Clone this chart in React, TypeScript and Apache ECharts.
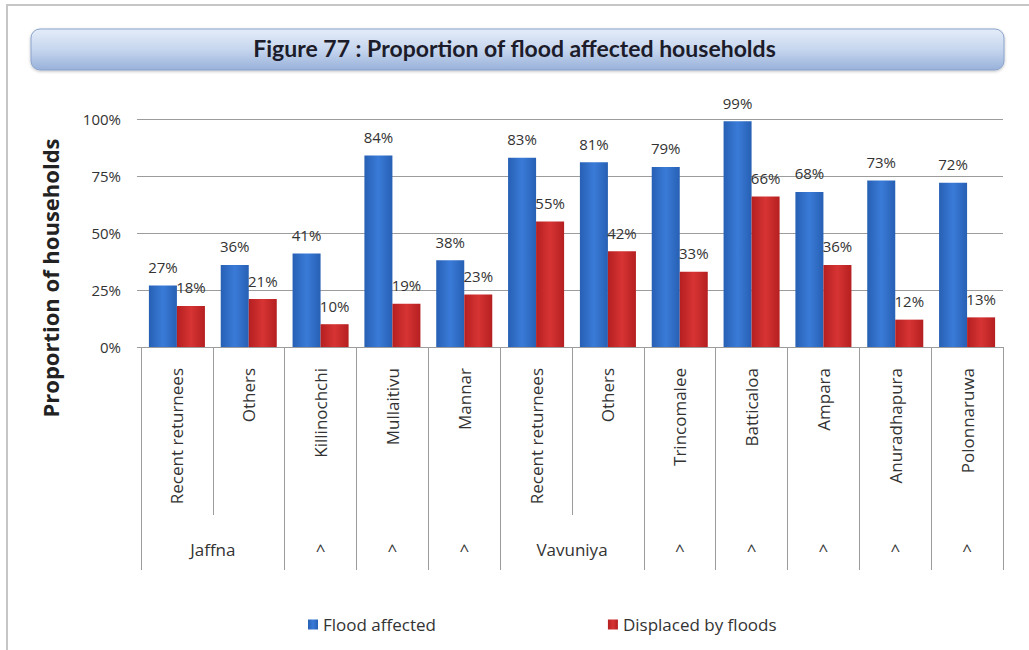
import React, { useEffect, useRef } from "react";
import * as echarts from "echarts";

const level1 = [
  "Recent returnees",
  "Others",
  "Killinochchi",
  "Mullaitivu",
  "Mannar",
  "Recent returnees",
  "Others",
  "Trincomalee",
  "Batticaloa",
  "Ampara",
  "Anuradhapura",
  "Polonnaruwa",
];
const level2 = ["Jaffna", "", "^", "^", "^", "Vavuniya", "", "^", "^", "^", "^", "^"];
const floodAffected = [27, 36, 41, 84, 38, 83, 81, 79, 99, 68, 73, 72];
const displaced = [18, 21, 10, 19, 23, 55, 42, 33, 66, 36, 12, 13];
const yTicks = [0, 25, 50, 75, 100];
const seriesNames = ["Flood affected", "Displaced by floods"];
const titleText = "Figure 77 : Proportion of flood affected households";
const yTitle = "Proportion of households";

const FONT = "'Open Sans', 'Liberation Sans', sans-serif";
const GRID_LEFT = 141;
const GRID_RIGHT = 26;
const WIDTH = 1029;
const HEIGHT = 650;
const band = (WIDTH - GRID_LEFT - GRID_RIGHT) / level1.length;
const GRAY = "#9c9c9c";

export default function App() {
  const ref = useRef<HTMLDivElement>(null);

  useEffect(() => {
    if (!ref.current) return;
    const chart = echarts.init(ref.current, undefined, { renderer: "svg" });

    const blue = new echarts.graphic.LinearGradient(0, 0, 1, 0, [
      { offset: 0, color: "#2760b4" },
      { offset: 0.5, color: "#3a7bd8" },
      { offset: 1, color: "#2760b4" },
    ]);
    const red = new echarts.graphic.LinearGradient(0, 0, 1, 0, [
      { offset: 0, color: "#b51f20" },
      { offset: 0.5, color: "#d73434" },
      { offset: 1, color: "#b51f20" },
    ]);

    const labelStyle = {
      show: true,
      position: "top",
      distance: 11,
      formatter: "{c}%",
      fontFamily: FONT,
      fontSize: 15,
      color: "#333",
    };

    chart.setOption({
      animation: false,
      backgroundColor: "#ffffff",
      title: {
        text: titleText,
        left: "center",
        top: 36,
        padding: 0,
        textStyle: {
          fontFamily: "Lato, 'Open Sans', sans-serif",
          fontWeight: "bold",
          fontSize: 23,
          color: "#1c1c2a",
        },
      },
      graphic: [
        {
          type: "polyline",
          shape: { points: [[7, HEIGHT], [7, 5], [WIDTH, 5]] },
          style: { stroke: "#c6c6c6", lineWidth: 2, fill: null },
          z: -1,
        },
        {
          type: "rect",
          shape: { x: 31, y: 29, width: 973, height: 41, r: 9 },
          style: {
            fill: new echarts.graphic.LinearGradient(0, 0, 0, 1, [
              { offset: 0, color: "#e4ecf8" },
              { offset: 0.5, color: "#c6d6ee" },
              { offset: 1, color: "#98b1da" },
            ]),
            stroke: "#8ba3cc",
            lineWidth: 1,
            shadowBlur: 3,
            shadowColor: "rgba(0,0,0,0.25)",
            shadowOffsetY: 1,
          },
          z: -1,
        },
        {
          type: "text",
          x: 50,
          y: 278,
          rotation: Math.PI / 2,
          style: {
            text: yTitle,
            fontFamily: FONT,
            fontWeight: "bold",
            fontSize: 22,
            fill: "#222",
            align: "center",
            verticalAlign: "middle",
            textAlign: "center",
            textVerticalAlign: "middle",
          },
        },
      ],
      legend: {
        left: 303,
        top: 611,
        icon: "rect",
        itemWidth: 10,
        itemHeight: 10,
        itemGap: 172,
        data: seriesNames,
        textStyle: { fontFamily: FONT, fontSize: 17, color: "#333" },
      },
      grid: {
        left: GRID_LEFT,
        right: GRID_RIGHT,
        top: 119,
        bottom: 303,
        containLabel: false,
      },
      xAxis: [
        {
          type: "category",
          data: level1,
          position: "bottom",
          axisLine: { show: true, lineStyle: { color: GRAY, width: 1 } },
          axisTick: { show: true, length: 168, interval: 0, lineStyle: { color: GRAY } },
          axisLabel: {
            interval: 0,
            rotate: 90,
            margin: 21,
            fontFamily: FONT,
            fontSize: 17,
            color: "#333",
          },
        },
        {
          type: "category",
          data: level2,
          position: "bottom",
          offset: 168,
          axisLine: { show: false },
          axisTick: {
            show: true,
            length: 55,
            interval: (i: number) => level2[i] !== "",
            lineStyle: { color: GRAY },
          },
          axisLabel: {
            interval: 0,
            margin: 26,
            fontFamily: FONT,
            fontSize: 17,
            color: "#333",
            formatter: (v: string, i: number) => (level2[i + 1] === "" && v ? `{g|${v}}` : v),
            rich: {
              g: {
                padding: [0, 0, 0, band],
                fontFamily: FONT,
                fontSize: 17,
                color: "#333",
              },
            },
          },
        },
      ],
      yAxis: {
        type: "value",
        min: yTicks[0],
        max: yTicks[yTicks.length - 1],
        interval: yTicks[1] - yTicks[0],
        axisLine: { show: false },
        axisTick: { show: true, length: 4, lineStyle: { color: GRAY } },
        splitLine: { show: true, lineStyle: { color: GRAY, width: 1 } },
        axisLabel: {
          margin: 20,
          fontFamily: FONT,
          fontSize: 15,
          color: "#333",
          formatter: "{value}%",
        },
      },
      series: [
        {
          name: seriesNames[0],
          type: "bar",
          data: floodAffected,
          barGap: "0%",
          barCategoryGap: "22%",
          itemStyle: { color: blue },
          label: labelStyle,
        },
        {
          name: seriesNames[1],
          type: "bar",
          data: displaced,
          barGap: "0%",
          barCategoryGap: "22%",
          itemStyle: { color: red },
          label: labelStyle,
        },
      ],
    });

    return () => chart.dispose();
  }, []);

  return (
    <div
      ref={ref}
      style={{
        position: "fixed",
        left: 0,
        top: 0,
        width: WIDTH,
        height: HEIGHT,
        background: "#fff",
      }}
    />
  );
}
